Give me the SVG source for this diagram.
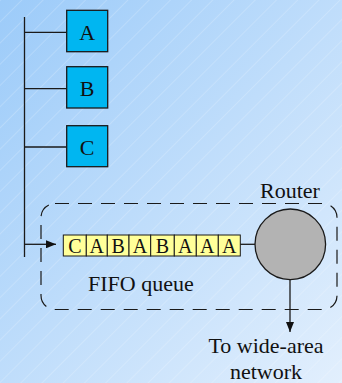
<svg xmlns="http://www.w3.org/2000/svg" width="342" height="383" viewBox="0 0 342 383">
  <defs>
    <linearGradient id="bg" x1="0" y1="0" x2="1" y2="1">
      <stop offset="0" stop-color="#9ccbf9"/>
      <stop offset="1" stop-color="#e2effd"/>
    </linearGradient>
    <pattern id="hatch" width="15" height="15" patternUnits="userSpaceOnUse" patternTransform="rotate(45)">
      <line x1="0" y1="0" x2="0" y2="15" stroke="#ffffff" stroke-opacity="0.45" stroke-width="0.8"/>
    </pattern>
    <marker id="arrow" viewBox="0 0 10 8" refX="10" refY="4" markerWidth="10" markerHeight="8" markerUnits="userSpaceOnUse" orient="auto">
      <path d="M0,0 L10,4 L0,8 Z" fill="#111"/>
    </marker>
  </defs>
  <style>
    .wire { stroke: #1a1a1a; stroke-width: 1.3; fill: none; }
    .host { fill: #00b6f1; stroke: #1a1a1a; stroke-width: 1.3; }
    .cell { fill: #ffff99; stroke: #1a1a1a; stroke-width: 1; }
    text { font-family: Liberation Serif, DejaVu Serif, Times New Roman, Times, serif; fill: #111; }
  </style>

  <!-- background -->
  <rect width="342" height="383" fill="url(#bg)"/>
  <rect width="342" height="383" fill="url(#hatch)"/>

  <!-- dashed router boundary -->
  <g id="router-area">
    <rect x="41" y="203.5" width="296" height="106" rx="14" ry="14" fill="none" stroke="#1a1a1a" stroke-width="1.2" stroke-dasharray="14 9"/>
    <text font-size="22" x="290" y="198" text-anchor="middle">Router</text>
    <text font-size="22" x="88" y="290.5">FIFO queue</text>
  </g>

  <!-- connectors -->
  <g id="connectors">
    <line class="wire" x1="24.5" y1="17" x2="24.5" y2="257"/>
    <line class="wire" x1="24.5" y1="32.3" x2="66.7" y2="32.3"/>
    <line class="wire" x1="24.5" y1="88.7" x2="66.7" y2="88.7"/>
    <line class="wire" x1="24.5" y1="147" x2="66.7" y2="147"/>
    <line class="wire" x1="24.5" y1="244.3" x2="56" y2="244.3" marker-end="url(#arrow)"/>
    <line class="wire" x1="240" y1="244.3" x2="255" y2="244.3"/>
    <line class="wire" x1="290" y1="279.5" x2="290" y2="332" marker-end="url(#arrow)"/>
  </g>

  <!-- hosts -->
  <g id="hostA">
    <rect class="host" x="66.7" y="10.3" width="41" height="41.4"/>
    <text font-size="22" x="87.2" y="39.5" text-anchor="middle">A</text>
  </g>
  <g id="hostB">
    <rect class="host" x="66.7" y="66.7" width="41" height="41.3"/>
    <text font-size="22" x="87.2" y="95.8" text-anchor="middle">B</text>
  </g>
  <g id="hostC">
    <rect class="host" x="66.7" y="125.7" width="41" height="41"/>
    <text font-size="22" x="87.2" y="154.5" text-anchor="middle">C</text>
  </g>

  <!-- packet queue -->
  <g id="queue">
    <rect class="cell" x="63.3" y="235" width="23" height="21"/>
    <rect class="cell" x="86.3" y="235" width="21" height="21"/>
    <rect class="cell" x="107.3" y="235" width="21.7" height="21"/>
    <rect class="cell" x="129" y="235" width="21.7" height="21"/>
    <rect class="cell" x="150.7" y="235" width="23.6" height="21"/>
    <rect class="cell" x="174.3" y="235" width="22" height="21"/>
    <rect class="cell" x="196.3" y="235" width="22" height="21"/>
    <rect class="cell" x="218.3" y="235" width="22" height="21"/>
    <text font-size="20" x="74.8" y="252.7" text-anchor="middle">C</text>
    <text font-size="20" x="96.8" y="252.7" text-anchor="middle">A</text>
    <text font-size="20" x="118.2" y="252.7" text-anchor="middle">B</text>
    <text font-size="20" x="139.9" y="252.7" text-anchor="middle">A</text>
    <text font-size="20" x="162.5" y="252.7" text-anchor="middle">B</text>
    <text font-size="20" x="185.3" y="252.7" text-anchor="middle">A</text>
    <text font-size="20" x="207.3" y="252.7" text-anchor="middle">A</text>
    <text font-size="20" x="229.3" y="252.7" text-anchor="middle">A</text>
  </g>

  <!-- router -->
  <g id="router">
    <circle cx="290.3" cy="244.3" r="35.3" fill="#b3b3b3" stroke="#1a1a1a" stroke-width="1.3"/>
  </g>

  <!-- uplink label -->
  <g id="wan">
    <text font-size="22" x="266" y="352.5" text-anchor="middle">To wide-area</text>
    <text font-size="22" x="266" y="379" text-anchor="middle">network</text>
  </g>
</svg>
